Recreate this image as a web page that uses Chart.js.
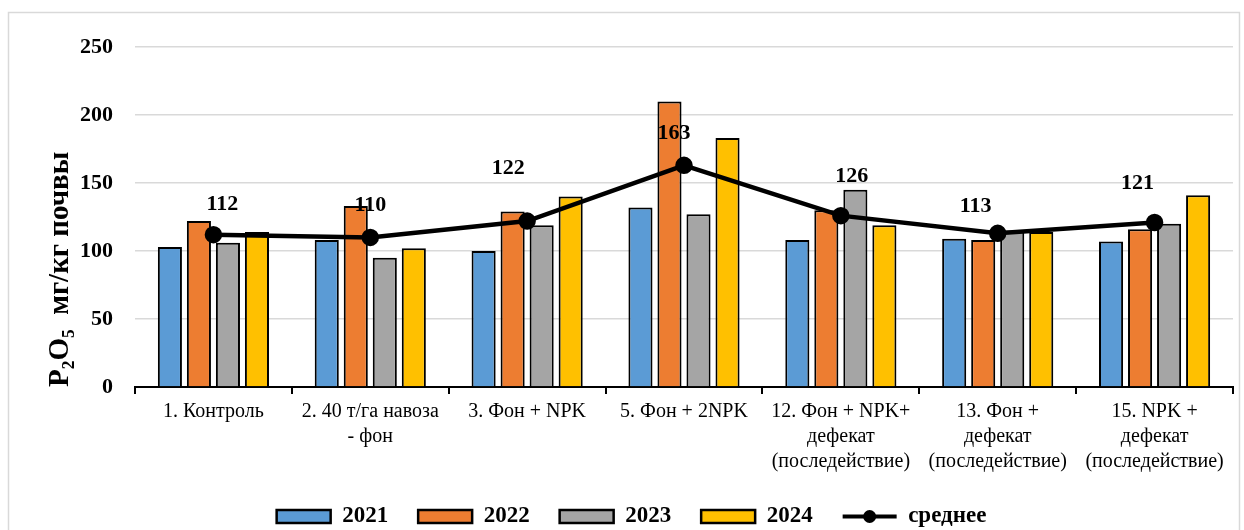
<!DOCTYPE html>
<html>
<head>
<meta charset="utf-8">
<script src="https://cdn.jsdelivr.net/npm/chart.js@4.4.1/dist/chart.umd.min.js"></script>
<style>
  html, body { margin: 0; padding: 0; background: #fff; }
  #wrap { width: 1244px; height: 530px; }
</style>
</head>
<body>
<div id="wrap"><canvas id="p2o5Chart" width="1244" height="530"></canvas></div>
<script>
// categories (multi-line labels as in the source figure)
const categories = [
  ['1. Контроль'],
  ['2. 40 т/га навоза', '- фон'],
  ['3. Фон + NPK'],
  ['5. Фон + 2NPK'],
  ['12. Фон + NPK+', 'дефекат', '(последействие)'],
  ['13. Фон +', 'дефекат', '(последействие)'],
  ['15. NPK +', 'дефекат', '(последействие)']
];

const values2021 = [103, 108, 100, 132, 108, 109, 107];
const values2022 = [122, 133, 129, 210, 130, 108, 116];
const values2023 = [106, 95, 119, 127, 145, 115, 120];
const values2024 = [114, 102, 140, 183, 119, 114, 141];
const averages   = [112, 110, 122, 163, 126, 113, 121];

const yTicks = [0, 50, 100, 150, 200, 250];

// hand placement of the average labels (dx, dy from the point), like in the original
const avgLabelShift = [[9, -30], [0, -32], [-19, -53], [-10, -32], [11, -39], [-22, -27], [-17, -39]];

const SERIF = '"Liberation Serif", "Times New Roman", serif';

const frameAndLabels = {
  id: 'frameAndLabels',
  beforeDraw(chart) {
    const c = chart.ctx;
    c.save();
    c.fillStyle = '#fff';
    c.fillRect(0, 0, chart.width, chart.height);
    c.strokeStyle = '#d9d9d9';
    c.lineWidth = 1.5;
    c.strokeRect(8.5, 12.5, 1231, 540);
    c.restore();
  },
  afterDatasetsDraw(chart) {
    const meta = chart.getDatasetMeta(4);
    const c = chart.ctx;
    c.save();
    c.font = 'bold 22px ' + SERIF;
    c.fillStyle = '#000';
    c.textAlign = 'center';
    c.textBaseline = 'middle';
    meta.data.forEach((pt, i) => {
      const s = avgLabelShift[i];
      c.fillText(String(averages[i]), pt.x + s[0], pt.y + s[1]);
    });
    c.restore();
  },
  afterDraw(chart) {
    // line-with-marker symbol for the "среднее" legend entry
    const box = chart.legend.legendHitBoxes[4];
    if (!box) return;
    const c = chart.ctx;
    const y = box.top + box.height / 2;
    c.save();
    c.strokeStyle = '#000';
    c.lineWidth = 4;
    c.beginPath();
    c.moveTo(box.left, y);
    c.lineTo(box.left + 54, y);
    c.stroke();
    c.beginPath();
    c.arc(box.left + 27, y, 6.5, 0, Math.PI * 2);
    c.fillStyle = '#000';
    c.fill();
    c.restore();
  }
};

const barStyle = (color) => ({
  backgroundColor: color,
  borderColor: '#000',
  borderWidth: 2,
  categoryPercentage: 0.74,
  barPercentage: 0.83,
  order: 1
});

const ctx = document.getElementById('p2o5Chart').getContext('2d');
const chart = new Chart(ctx, {
  data: {
    labels: categories,
    datasets: [
      Object.assign({ type: 'bar', label: '2021', data: values2021 }, barStyle('#5B9BD5')),
      Object.assign({ type: 'bar', label: '2022', data: values2022 }, barStyle('#ED7D31')),
      Object.assign({ type: 'bar', label: '2023', data: values2023 }, barStyle('#A5A5A5')),
      Object.assign({ type: 'bar', label: '2024', data: values2024 }, barStyle('#FFC000')),
      {
        type: 'line',
        label: 'среднее',
        data: averages,
        borderColor: '#000',
        backgroundColor: '#000',
        borderWidth: 4.5,
        pointRadius: 6.5,
        pointBackgroundColor: '#000',
        pointBorderColor: '#000',
        tension: 0,
        order: 0
      }
    ]
  },
  options: {
    responsive: false,
    animation: false,
    layout: {
      padding: { left: 30, right: 11, top: 47, bottom: 0 }
    },
    plugins: {
      tooltip: { enabled: false },
      legend: {
        position: 'bottom',
        maxHeight: 55,
        labels: {
          boxWidth: 54,
          boxHeight: 13,
          padding: 30,
          color: '#000',
          font: { family: SERIF, size: 23, weight: 'bold' },
          sort: (a, b) => a.datasetIndex - b.datasetIndex,
          generateLabels(chart) {
            const items = Chart.defaults.plugins.legend.labels.generateLabels(chart);
            items.forEach(it => {
              if (it.datasetIndex === 4) {
                it.fillStyle = 'rgba(0,0,0,0)';
                it.strokeStyle = 'rgba(0,0,0,0)';
                it.lineWidth = 0;
              } else {
                it.lineWidth = 2.5;
              }
            });
            return items;
          }
        }
      }
    },
    scales: {
      x: {
        offset: true,
        afterFit(scale) {
          scale.height = 88;
        },
        grid: {
          display: true,
          offset: true,
          drawOnChartArea: false,
          drawTicks: true,
          tickLength: 7,
          color: '#000',
          lineWidth: 2
        },
        border: { display: true, color: '#000', width: 2 },
        ticks: {
          color: '#000',
          maxRotation: 0,
          autoSkip: false,
          padding: 5,
          font: { family: SERIF, size: 20, lineHeight: 1.25 }
        }
      },
      y: {
        min: 0,
        max: 250,
        afterBuildTicks(scale) {
          scale.ticks = yTicks.map(v => ({ value: v }));
        },
        afterFit(scale) {
          scale.width = 105;
        },
        grid: { color: '#d9d9d9', lineWidth: 1.5, drawTicks: false },
        border: { display: false },
        ticks: {
          color: '#000',
          padding: 22,
          font: { family: SERIF, size: 22, weight: 'bold' }
        },
        title: {
          display: true,
          text: 'P₂O₅  мг/кг почвы',
          align: 'start',
          color: '#000',
          padding: { top: 13, bottom: 0 },
          font: { family: SERIF, size: 29, weight: 'bold' }
        }
      }
    }
  },
  plugins: [frameAndLabels]
});
</script>
</body>
</html>
